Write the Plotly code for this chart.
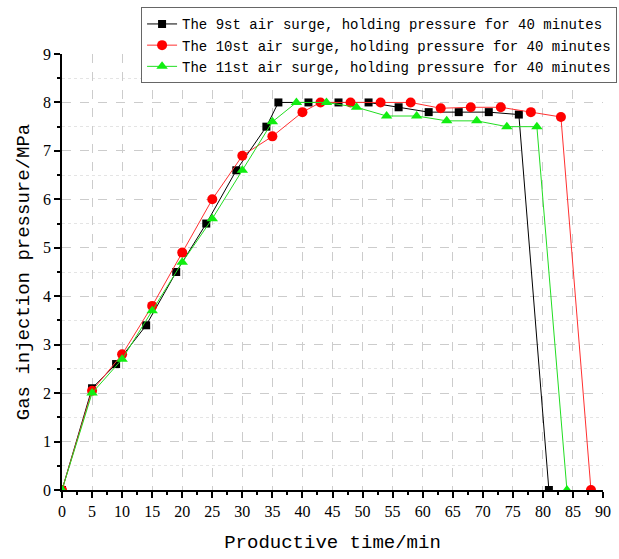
import plotly.graph_objects as go

x9 = [0, 5, 9, 14, 19, 24, 29, 34, 36, 41, 46, 51, 56, 61, 66, 71, 76, 81]
y9 = [0, 2.1, 2.6, 3.4, 4.5, 5.5, 6.6, 7.5, 8.0, 8.0, 8.0, 8.0, 7.9, 7.8, 7.8, 7.8, 7.75, 0]

x10 = [0, 5, 10, 15, 20, 25, 30, 35, 40, 43, 48, 53, 58, 63, 68, 73, 78, 83, 88]
y10 = [0, 2.05, 2.8, 3.8, 4.9, 6.0, 6.9, 7.3, 7.8, 8.0, 8.0, 8.0, 8.0, 7.88, 7.9, 7.9, 7.8, 7.7, 0]

x11 = [0, 5, 10, 15, 20, 25, 30, 35, 39, 44, 49, 54, 59, 64, 69, 74, 79, 84]
y11 = [0, 2.0, 2.7, 3.7, 4.7, 5.6, 6.6, 7.6, 8.0, 8.0, 7.9, 7.72, 7.72, 7.62, 7.62, 7.5, 7.5, 0]

names = [
    "The 9st air surge, holding pressure for 40 minutes",
    "The 10st air surge, holding pressure for 40 minutes",
    "The 11st air surge, holding pressure for 40 minutes",
]

fig = go.Figure()
fig.add_trace(go.Scatter(x=x9, y=y9, name=names[0], mode="lines+markers",
                         line=dict(color="black", width=1),
                         marker=dict(symbol="square", size=8, color="black")))
fig.add_trace(go.Scatter(x=x10, y=y10, name=names[1], mode="lines+markers",
                         line=dict(color="#ff3030", width=1),
                         marker=dict(symbol="circle", size=10, color="#ff0000")))
fig.add_trace(go.Scatter(x=x11, y=y11, name=names[2], mode="lines+markers",
                         line=dict(color="#22dd22", width=1),
                         marker=dict(symbol="triangle-up", size=10, color="#11ee11")))

serif = "Liberation Serif, Times New Roman, serif"
mono = "Liberation Mono, DejaVu Sans Mono, monospace"

fig.update_layout(
    width=619, height=559,
    margin=dict(l=62, r=16, t=54, b=69, autoexpand=False),
    paper_bgcolor="white", plot_bgcolor="white",
    showlegend=True,
    legend=dict(x=1.026, y=1.107, xanchor="right", yanchor="top",
                bgcolor="white", bordercolor="#666666", borderwidth=1,
                font=dict(family=mono, size=14, color="black"),
                tracegroupgap=0, itemwidth=30),
)
fig.update_xaxes(
    range=[0, 90], tickmode="linear", tick0=0, dtick=5, automargin=False,
    showline=True, linecolor="black", linewidth=1.5,
    ticks="outside", ticklen=6, tickcolor="black", tickwidth=1.5,
    tickfont=dict(family=serif, size=16, color="black"),
    showgrid=True, gridcolor="#cccccc", griddash="dash", gridwidth=1,
    zeroline=False,
    minor=dict(dtick=2.5, ticks="outside", ticklen=3, tickcolor="black", showgrid=False),
    title=dict(text="Productive time/min", font=dict(family=mono, size=19, color="black"), standoff=16),
)
fig.update_yaxes(
    range=[0, 9], tickmode="linear", tick0=0, dtick=1, automargin=False,
    showline=True, linecolor="black", linewidth=1.5,
    ticks="outside", ticklen=6, tickcolor="black", tickwidth=1.5,
    tickfont=dict(family=serif, size=16, color="black"),
    showgrid=True, gridcolor="#cccccc", griddash="dash", gridwidth=1,
    zeroline=False,
    minor=dict(dtick=0.5, ticks="outside", ticklen=3, tickcolor="black",
               showgrid=True, gridcolor="#e4e4e4", griddash="dot"),
    title=dict(text="Gas injection pressure/MPa", font=dict(family=mono, size=19, color="black"), standoff=8),
)

fig.write_html("out.html")
